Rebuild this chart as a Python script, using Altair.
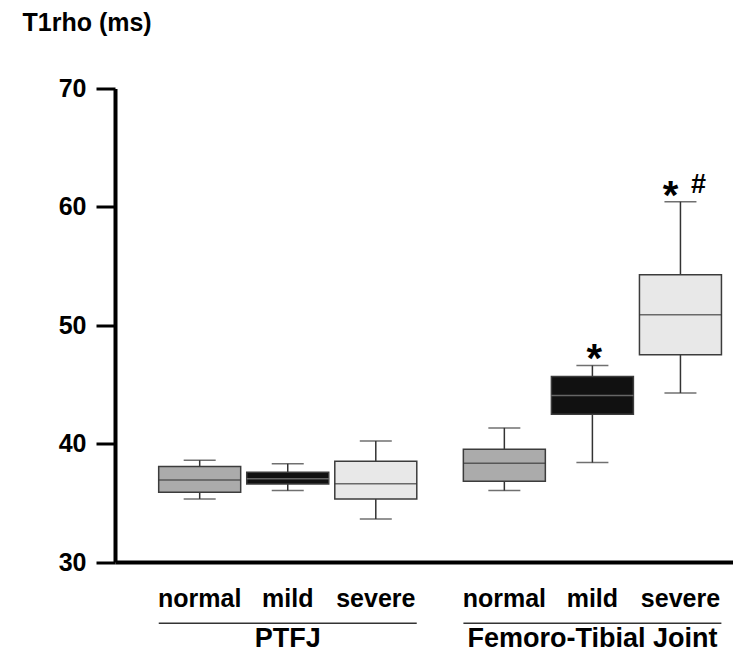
import altair as alt
import pandas as pd

# ---- data ----
group_names = ["PTFJ", "Femoro-Tibial Joint"]
severity_levels = ["normal", "mild", "severe"]

groups = ["PTFJ", "PTFJ", "PTFJ",
          "Femoro-Tibial Joint", "Femoro-Tibial Joint", "Femoro-Tibial Joint"]
severity = ["normal", "mild", "severe", "normal", "mild", "severe"]
w_low = [35.33, 36.03, 33.64, 36.03, 38.40, 44.28]
q1 = [35.89, 36.59, 35.33, 36.82, 42.49, 47.50]
median = [36.93, 37.04, 36.62, 38.34, 44.06, 50.88]
q3 = [38.06, 37.58, 38.51, 39.53, 45.66, 54.26]
w_high = [38.60, 38.30, 40.23, 41.33, 46.60, 60.43]

y_ticks = [30, 40, 50, 60, 70]

# significance marks: (box index, symbol)
ann_box = [4, 5, 5]
ann_text = ["*", "*", "#"]
ann_id = ["mild_star", "severe_star", "severe_hash"]

# ---- layout helpers ----
GROUP_STEP = 3.46
pos = [1 + severity_levels.index(s) + GROUP_STEP * group_names.index(g)
       for g, s in zip(groups, severity)]

df = pd.DataFrame({
    "group": groups, "severity": severity, "pos": pos,
    "w_low": w_low, "q1": q1, "median": median, "q3": q3, "w_high": w_high,
})

gdf = pd.DataFrame({
    "name": group_names,
    "mid": [sum(p for p, g in zip(pos, groups) if g == n) / 3 for n in group_names],
    "lo": [min(p for p, g in zip(pos, groups) if g == n) - 0.465 for n in group_names],
    "hi": [max(p for p, g in zip(pos, groups) if g == n) + 0.465 for n in group_names],
})

adf = pd.DataFrame({
    "id": ann_id, "text": ann_text,
    "pos": [pos[i] for i in ann_box],
    "y": [w_high[i] for i in ann_box],
})

FONT = "Liberation Sans"
PLOT_W, PLOT_H = 618, 473.5

xscale = alt.Scale(domain=[0.095, 7.0], nice=False, zero=False)
yscale = alt.Scale(domain=[30, 70], nice=False, zero=False)
xaxis = alt.Axis(title=None, labels=False, ticks=False, grid=False,
                 domainWidth=4, domainColor="black")
yaxis = alt.Axis(values=y_ticks, title="T1rho (ms)", titleAngle=0,
                 titleX=-93, titleY=-58.5, titleAlign="left",
                 titleBaseline="alphabetic", titleFont=FONT, titleFontSize=25,
                 titleFontWeight="bold", titleColor="black",
                 labelFont=FONT, labelFontSize=25, labelFontWeight="bold",
                 labelColor="black", labelPadding=10, tickSize=19, tickWidth=3,
                 tickColor="black", domainWidth=4, domainColor="black",
                 grid=False)

X = alt.X("pos:Q", scale=xscale, axis=xaxis)


def Y(field):
    return alt.Y(f"{field}:Q", scale=yscale, axis=yaxis)


base = alt.Chart(df)

whisk = base.mark_rule(color="#333333", strokeWidth=1.5).encode(
    x=X, y=Y("w_low"), y2="w_high:Q")

box = base.mark_bar(size=82, stroke="#3c3c3c", strokeWidth=1.5).encode(
    x=X, y=Y("q1"), y2="q3:Q",
    fill=alt.Fill("severity:N", legend=None,
                  scale=alt.Scale(domain=severity_levels,
                                  range=["#ababab", "#111111", "#e8e8e8"])))

med = base.mark_tick(orient="horizontal", size=82, thickness=1.5).encode(
    x=X, y=Y("median"),
    color=alt.Color("severity:N", legend=None,
                    scale=alt.Scale(domain=severity_levels,
                                    range=["#333333", "#8a8a8a", "#333333"])))

cap_hi = base.mark_tick(orient="horizontal", size=32, thickness=1.5,
                        color="#333333").encode(x=X, y=Y("w_high"))
cap_lo = base.mark_tick(orient="horizontal", size=32, thickness=1.5,
                        color="#333333").encode(x=X, y=Y("w_low"))

tier = base.mark_text(font=FONT, fontSize=25, fontWeight="bold",
                      baseline="alphabetic", color="black").encode(
    x=X, y=alt.value(518), text="severity:N")

gbase = alt.Chart(gdf)
gline = gbase.mark_rule(color="#333333", strokeWidth=1.5).encode(
    x=alt.X("lo:Q", scale=xscale, axis=xaxis), x2="hi:Q", y=alt.value(534.8))
gtitle = gbase.mark_text(font=FONT, fontSize=27, fontWeight="bold",
                         baseline="alphabetic", color="black").encode(
    x=alt.X("mid:Q", scale=xscale, axis=xaxis), y=alt.value(558), text="name:N")

abase = alt.Chart(adf)
AX = alt.X("pos:Q", scale=xscale, axis=xaxis)
AY = alt.Y("y:Q", scale=yscale, axis=yaxis)
star_mild = abase.transform_filter(alt.datum.id == "mild_star").mark_text(
    font=FONT, fontSize=40, fontWeight="bold", baseline="alphabetic",
    dy=7, dx=2, color="black").encode(x=AX, y=AY, text="text:N")
star_sev = abase.transform_filter(alt.datum.id == "severe_star").mark_text(
    font=FONT, fontSize=40, fontWeight="bold", baseline="alphabetic",
    dy=7, dx=-10, color="black").encode(x=AX, y=AY, text="text:N")
hash_sev = abase.transform_filter(alt.datum.id == "severe_hash").mark_text(
    font=FONT, fontSize=27, fontWeight="bold", baseline="alphabetic",
    dy=-9, dx=18, color="black").encode(x=AX, y=AY, text="text:N")

chart = alt.layer(
    whisk, box, med, cap_hi, cap_lo, tier, gline, gtitle,
    star_mild, star_sev, hash_sev
).properties(
    width=PLOT_W, height=PLOT_H,
    autosize=alt.AutoSizeParams(type="none"),
    padding={"left": 107, "top": 80.5, "right": 0, "bottom": 91},
    background="white",
).configure_view(stroke=None)

chart.save("out.html", embed_options={"renderer": "svg", "actions": False})
